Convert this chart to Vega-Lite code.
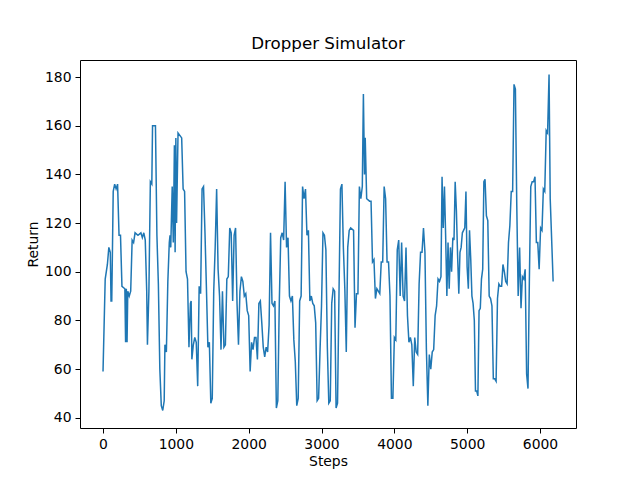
{"$schema":"https://vega.github.io/schema/vega-lite/v6.json","width":496,"height":368,"autosize":"none","padding":{"left":80,"top":60,"right":64,"bottom":52},"background":"white",
"title":{"text":"Dropper Simulator","font":"DejaVu Sans","fontSize":16.7,"fontWeight":"normal","color":"black","offset":7},
"config":{"view":{"stroke":"black","strokeWidth":1},"axis":{"labelFont":"DejaVu Sans","titleFont":"DejaVu Sans","labelFontSize":13.9,"titleFontSize":13.9,"titleFontWeight":"normal","labelColor":"black","titleColor":"black","grid":false,"domain":false,"tickColor":"black","tickSize":5,"labelPadding":4,"titlePadding":4}},
"data":{"values":[
{"s":0,"r":59},{"s":30,"r":97},{"s":60,"r":103},{"s":80,"r":110},{"s":100,"r":108},{"s":110,"r":88},{"s":120,"r":88},{"s":130,"r":110},{"s":140,"r":133},{"s":160,"r":136},{"s":180,"r":134},{"s":200,"r":136},{"s":220,"r":115},{"s":240,"r":115},{"s":260,"r":94},{"s":300,"r":93},{"s":310,"r":71},{"s":320,"r":93},{"s":330,"r":71},{"s":340,"r":92},{"s":360,"r":90},{"s":380,"r":92},{"s":400,"r":113},{"s":420,"r":112},{"s":440,"r":116},{"s":480,"r":115},{"s":520,"r":116},{"s":540,"r":114},{"s":560,"r":116},{"s":580,"r":113},{"s":600,"r":92},{"s":610,"r":70},{"s":630,"r":92},{"s":650,"r":137},{"s":670,"r":136},{"s":680,"r":160},{"s":720,"r":160},{"s":740,"r":115},{"s":760,"r":95},{"s":780,"r":60},{"s":800,"r":45},{"s":820,"r":43},{"s":840,"r":47},{"s":850,"r":70},{"s":870,"r":67},{"s":890,"r":96},{"s":910,"r":112},{"s":920,"r":115},{"s":930,"r":110},{"s":950,"r":135},{"s":965,"r":112},{"s":980,"r":152},{"s":990,"r":108},{"s":1000,"r":155},{"s":1010,"r":120},{"s":1030,"r":157},{"s":1080,"r":155},{"s":1100,"r":134},{"s":1120,"r":133},{"s":1140,"r":100},{"s":1160,"r":97},{"s":1180,"r":69},{"s":1200,"r":87},{"s":1210,"r":88},{"s":1220,"r":64},{"s":1240,"r":70},{"s":1260,"r":73},{"s":1280,"r":71},{"s":1300,"r":53},{"s":1320,"r":94},{"s":1340,"r":91},{"s":1360,"r":134},{"s":1380,"r":135},{"s":1400,"r":116},{"s":1420,"r":93},{"s":1440,"r":69},{"s":1460,"r":71},{"s":1480,"r":46},{"s":1500,"r":48},{"s":1520,"r":92},{"s":1540,"r":110},{"s":1560,"r":134},{"s":1580,"r":101},{"s":1600,"r":90},{"s":1620,"r":68},{"s":1640,"r":92},{"s":1660,"r":69},{"s":1680,"r":70},{"s":1700,"r":97},{"s":1720,"r":98},{"s":1740,"r":118},{"s":1760,"r":116},{"s":1780,"r":88},{"s":1800,"r":115},{"s":1820,"r":118},{"s":1840,"r":87},{"s":1860,"r":70},{"s":1880,"r":92},{"s":1900,"r":98},{"s":1920,"r":96},{"s":1940,"r":90},{"s":1960,"r":91},{"s":1980,"r":84},{"s":2000,"r":82},{"s":2020,"r":59},{"s":2040,"r":71},{"s":2060,"r":68},{"s":2080,"r":73},{"s":2100,"r":73},{"s":2120,"r":64},{"s":2140,"r":87},{"s":2160,"r":88},{"s":2180,"r":79},{"s":2200,"r":69},{"s":2220,"r":65},{"s":2240,"r":69},{"s":2260,"r":67},{"s":2280,"r":78},{"s":2300,"r":116},{"s":2320,"r":87},{"s":2340,"r":86},{"s":2360,"r":88},{"s":2380,"r":44},{"s":2400,"r":47},{"s":2420,"r":87},{"s":2440,"r":114},{"s":2460,"r":116},{"s":2480,"r":113},{"s":2500,"r":137},{"s":2520,"r":110},{"s":2540,"r":114},{"s":2560,"r":90},{"s":2580,"r":88},{"s":2600,"r":90},{"s":2620,"r":72},{"s":2640,"r":63},{"s":2660,"r":45},{"s":2680,"r":48},{"s":2700,"r":88},{"s":2720,"r":90},{"s":2740,"r":135},{"s":2760,"r":130},{"s":2780,"r":134},{"s":2800,"r":115},{"s":2820,"r":117},{"s":2840,"r":88},{"s":2860,"r":90},{"s":2880,"r":87},{"s":2900,"r":86},{"s":2920,"r":79},{"s":2940,"r":47},{"s":2960,"r":48},{"s":2980,"r":68},{"s":3000,"r":86},{"s":3020,"r":116},{"s":3040,"r":115},{"s":3060,"r":109},{"s":3080,"r":69},{"s":3100,"r":46},{"s":3120,"r":47},{"s":3140,"r":87},{"s":3160,"r":93},{"s":3180,"r":92},{"s":3200,"r":44},{"s":3220,"r":46},{"s":3240,"r":91},{"s":3260,"r":134},{"s":3280,"r":136},{"s":3300,"r":110},{"s":3320,"r":93},{"s":3340,"r":67},{"s":3360,"r":110},{"s":3380,"r":117},{"s":3400,"r":118},{"s":3440,"r":117},{"s":3460,"r":77},{"s":3480,"r":91},{"s":3500,"r":91},{"s":3520,"r":135},{"s":3540,"r":130},{"s":3560,"r":135},{"s":3575,"r":173},{"s":3590,"r":140},{"s":3600,"r":155},{"s":3620,"r":130},{"s":3660,"r":129},{"s":3680,"r":129},{"s":3700,"r":104},{"s":3720,"r":105},{"s":3740,"r":89},{"s":3760,"r":93},{"s":3780,"r":92},{"s":3800,"r":91},{"s":3820,"r":104},{"s":3840,"r":104},{"s":3860,"r":135},{"s":3880,"r":130},{"s":3900,"r":104},{"s":3920,"r":104},{"s":3940,"r":90},{"s":3960,"r":48},{"s":3980,"r":48},{"s":4000,"r":73},{"s":4020,"r":72},{"s":4040,"r":109},{"s":4060,"r":113},{"s":4080,"r":90},{"s":4100,"r":112},{"s":4120,"r":90},{"s":4140,"r":88},{"s":4160,"r":110},{"s":4180,"r":82},{"s":4200,"r":71},{"s":4220,"r":73},{"s":4240,"r":70},{"s":4260,"r":53},{"s":4280,"r":73},{"s":4300,"r":67},{"s":4320,"r":66},{"s":4340,"r":95},{"s":4360,"r":108},{"s":4380,"r":108},{"s":4400,"r":118},{"s":4420,"r":108},{"s":4440,"r":68},{"s":4460,"r":45},{"s":4480,"r":66},{"s":4500,"r":60},{"s":4520,"r":67},{"s":4540,"r":68},{"s":4560,"r":82},{"s":4580,"r":86},{"s":4600,"r":97},{"s":4620,"r":96},{"s":4640,"r":98},{"s":4655,"r":139},{"s":4671,"r":118},{"s":4688,"r":135},{"s":4704,"r":115},{"s":4721,"r":90},{"s":4737,"r":112},{"s":4753,"r":93},{"s":4770,"r":110},{"s":4786,"r":100},{"s":4803,"r":114},{"s":4819,"r":113},{"s":4835,"r":137},{"s":4852,"r":125},{"s":4868,"r":107},{"s":4885,"r":91},{"s":4901,"r":108},{"s":4917,"r":110},{"s":4934,"r":116},{"s":4967,"r":118},{"s":4983,"r":133},{"s":4999,"r":102},{"s":5016,"r":93},{"s":5032,"r":117},{"s":5049,"r":105},{"s":5065,"r":90},{"s":5081,"r":87},{"s":5098,"r":80},{"s":5114,"r":51},{"s":5131,"r":51},{"s":5147,"r":49},{"s":5163,"r":84},{"s":5180,"r":85},{"s":5196,"r":97},{"s":5213,"r":101},{"s":5229,"r":137},{"s":5245,"r":138},{"s":5264,"r":123},{"s":5283,"r":121},{"s":5302,"r":90},{"s":5321,"r":89},{"s":5340,"r":86},{"s":5359,"r":56},{"s":5378,"r":56},{"s":5397,"r":55},{"s":5416,"r":89},{"s":5435,"r":95},{"s":5454,"r":94},{"s":5473,"r":94},{"s":5491,"r":103},{"s":5510,"r":100},{"s":5529,"r":96},{"s":5548,"r":95},{"s":5567,"r":112},{"s":5586,"r":119},{"s":5605,"r":133},{"s":5624,"r":133},{"s":5643,"r":177},{"s":5662,"r":175},{"s":5681,"r":127},{"s":5700,"r":90},{"s":5720,"r":110},{"s":5739,"r":85},{"s":5758,"r":98},{"s":5777,"r":97},{"s":5796,"r":101},{"s":5816,"r":58},{"s":5835,"r":52},{"s":5854,"r":97},{"s":5873,"r":135},{"s":5892,"r":137},{"s":5912,"r":137},{"s":5931,"r":139},{"s":5950,"r":112},{"s":5969,"r":112},{"s":5988,"r":101},{"s":6008,"r":118},{"s":6027,"r":117},{"s":6046,"r":134},{"s":6065,"r":133},{"s":6085,"r":158},{"s":6104,"r":157},{"s":6124,"r":181},{"s":6140,"r":130},{"s":6180,"r":96}
]},
"mark":{"type":"line","color":"#1f77b4","strokeWidth":1.5,"clip":true},
"encoding":{
"x":{"field":"s","type":"quantitative","title":"Steps","scale":{"domain":[-316,6494],"nice":false,"zero":false},"axis":{"values":[0,1000,2000,3000,4000,5000,6000],"format":"d","labelFlush":false}},
"y":{"field":"r","type":"quantitative","title":"Return","scale":{"domain":[35.8,187],"nice":false,"zero":false},"axis":{"values":[40,60,80,100,120,140,160,180],"labelFlush":false}}}}
